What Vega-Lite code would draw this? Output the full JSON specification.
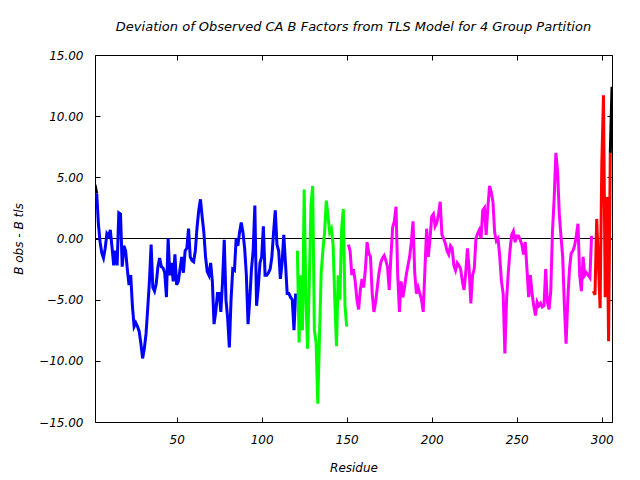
{
  "$schema": "https://vega.github.io/schema/vega-lite/v6.json",
  "width": 517,
  "height": 367,
  "autosize": "none",
  "padding": {"left": 95, "top": 55, "right": 28, "bottom": 58},
  "background": "white",
  "title": {"text": "Deviation of Observed CA B Factors from TLS Model for 4 Group Partition", "font": "DejaVu Sans", "fontSize": 13, "fontStyle": "italic", "fontWeight": "normal", "color": "black", "anchor": "middle", "offset": 15},
  "config": {
    "view": {"stroke": "black", "strokeWidth": 1},
    "axis": {"labelFont": "DejaVu Sans", "labelFontSize": 12, "labelFontStyle": "italic", "labelColor": "black", "titleFont": "DejaVu Sans", "titleFontSize": 12, "titleFontStyle": "italic", "titleFontWeight": "normal", "titleColor": "black", "tickColor": "black", "tickWidth": 1, "domain": false, "grid": false, "tickSize": -5}
  },
  "data": {"values": [
    {"r":2,"v":4.4,"s":"a"},{"r":3,"v":3.7,"s":"a"},
    {"r":3,"v":3.7,"s":"b"},{"r":4,"v":1.2,"s":"b"},{"r":5,"v":-0.3,"s":"b"},{"r":6,"v":-1.2,"s":"b"},{"r":7,"v":-1.6,"s":"b"},{"r":8,"v":-0.8,"s":"b"},{"r":9,"v":0.4,"s":"b"},{"r":10,"v":0.2,"s":"b"},
    {"r":11,"v":0.7,"s":"b"},{"r":12,"v":-0.7,"s":"b"},{"r":13,"v":-2.2,"s":"b"},{"r":14,"v":-1.0,"s":"b"},{"r":15,"v":-2.2,"s":"b"},{"r":16,"v":2.1,"s":"b"},{"r":17,"v":2.0,"s":"b"},{"r":18,"v":-2.3,"s":"b"},{"r":19,"v":-0.6,"s":"b"},{"r":20,"v":-1.0,"s":"b"},
    {"r":21,"v":-2.5,"s":"b"},{"r":22,"v":-3.8,"s":"b"},{"r":23,"v":-3.0,"s":"b"},{"r":24,"v":-5.5,"s":"b"},{"r":25,"v":-7.2,"s":"b"},{"r":26,"v":-6.9,"s":"b"},{"r":27,"v":-7.2,"s":"b"},{"r":28,"v":-7.6,"s":"b"},{"r":29,"v":-8.6,"s":"b"},{"r":30,"v":-9.8,"s":"b"},
    {"r":31,"v":-9.0,"s":"b"},{"r":32,"v":-7.8,"s":"b"},{"r":33,"v":-5.7,"s":"b"},{"r":34,"v":-3.5,"s":"b"},{"r":35,"v":-0.5,"s":"b"},{"r":36,"v":-4.0,"s":"b"},{"r":37,"v":-4.3,"s":"b"},{"r":38,"v":-3.7,"s":"b"},{"r":39,"v":-2.3,"s":"b"},{"r":40,"v":-1.6,"s":"b"},
    {"r":41,"v":-2.3,"s":"b"},{"r":42,"v":-2.4,"s":"b"},{"r":43,"v":-2.8,"s":"b"},{"r":44,"v":-4.8,"s":"b"},{"r":45,"v":0.0,"s":"b"},{"r":46,"v":-3.0,"s":"b"},{"r":47,"v":-2.0,"s":"b"},{"r":48,"v":-3.5,"s":"b"},{"r":49,"v":-1.3,"s":"b"},{"r":50,"v":-3.8,"s":"b"},
    {"r":51,"v":-3.5,"s":"b"},{"r":52,"v":-2.5,"s":"b"},{"r":53,"v":-1.5,"s":"b"},{"r":54,"v":-2.8,"s":"b"},{"r":55,"v":-1.0,"s":"b"},{"r":56,"v":-0.8,"s":"b"},{"r":57,"v":0.8,"s":"b"},{"r":58,"v":-1.5,"s":"b"},{"r":59,"v":-1.8,"s":"b"},{"r":60,"v":-1.9,"s":"b"},
    {"r":61,"v":-1.0,"s":"b"},{"r":62,"v":0.9,"s":"b"},{"r":63,"v":2.3,"s":"b"},{"r":64,"v":3.2,"s":"b"},{"r":65,"v":1.8,"s":"b"},{"r":66,"v":0.5,"s":"b"},{"r":67,"v":-1.5,"s":"b"},{"r":68,"v":-2.7,"s":"b"},{"r":69,"v":-3.0,"s":"b"},{"r":70,"v":-2.0,"s":"b"},
    {"r":71,"v":-3.5,"s":"b"},{"r":72,"v":-7.0,"s":"b"},{"r":73,"v":-6.0,"s":"b"},{"r":74,"v":-4.5,"s":"b"},{"r":75,"v":-4.5,"s":"b"},{"r":76,"v":-6.0,"s":"b"},{"r":77,"v":-3.5,"s":"b"},{"r":78,"v":-0.1,"s":"b"},{"r":79,"v":-5.0,"s":"b"},{"r":80,"v":-6.5,"s":"b"},
    {"r":81,"v":-8.9,"s":"b"},{"r":82,"v":-5.0,"s":"b"},{"r":83,"v":-2.5,"s":"b"},{"r":84,"v":-2.6,"s":"b"},{"r":85,"v":0.0,"s":"b"},{"r":86,"v":-0.6,"s":"b"},{"r":87,"v":0.5,"s":"b"},{"r":88,"v":1.3,"s":"b"},{"r":89,"v":0.5,"s":"b"},{"r":90,"v":-0.8,"s":"b"},
    {"r":91,"v":-3.0,"s":"b"},{"r":92,"v":-7.0,"s":"b"},{"r":93,"v":-5.0,"s":"b"},{"r":94,"v":-2.5,"s":"b"},{"r":95,"v":-1.0,"s":"b"},{"r":96,"v":2.7,"s":"b"},{"r":97,"v":-5.5,"s":"b"},{"r":98,"v":-4.0,"s":"b"},{"r":99,"v":-2.0,"s":"b"},{"r":100,"v":-1.5,"s":"b"},
    {"r":101,"v":1.0,"s":"b"},{"r":102,"v":-3.0,"s":"b"},{"r":103,"v":-3.0,"s":"b"},{"r":104,"v":-2.8,"s":"b"},{"r":105,"v":-2.5,"s":"b"},{"r":106,"v":-1.5,"s":"b"},{"r":107,"v":0.5,"s":"b"},{"r":108,"v":2.3,"s":"b"},{"r":109,"v":-0.5,"s":"b"},{"r":110,"v":-1.0,"s":"b"},
    {"r":111,"v":-3.3,"s":"b"},{"r":112,"v":-2.0,"s":"b"},{"r":113,"v":0.3,"s":"b"},{"r":114,"v":-2.0,"s":"b"},{"r":115,"v":-4.5,"s":"b"},{"r":116,"v":-4.5,"s":"b"},{"r":117,"v":-4.8,"s":"b"},{"r":118,"v":-5.0,"s":"b"},{"r":119,"v":-7.5,"s":"b"},{"r":120,"v":-4.5,"s":"b"},
    {"r":121,"v":-1.0,"s":"c"},{"r":122,"v":-8.5,"s":"c"},{"r":123,"v":-3.0,"s":"c"},{"r":124,"v":-7.5,"s":"c"},{"r":125,"v":4.0,"s":"c"},{"r":126,"v":-5.0,"s":"c"},{"r":127,"v":-9.0,"s":"c"},{"r":128,"v":-3.5,"s":"c"},{"r":129,"v":2.8,"s":"c"},{"r":130,"v":4.3,"s":"c"},
    {"r":131,"v":-7.5,"s":"c"},{"r":132,"v":-8.5,"s":"c"},{"r":133,"v":-13.5,"s":"c"},{"r":134,"v":-8.0,"s":"c"},{"r":135,"v":-2.8,"s":"c"},{"r":136,"v":-1.0,"s":"c"},{"r":137,"v":0.5,"s":"c"},{"r":138,"v":3.1,"s":"c"},{"r":139,"v":1.8,"s":"c"},{"r":140,"v":0.5,"s":"c"},
    {"r":141,"v":0.8,"s":"c"},{"r":142,"v":-0.5,"s":"c"},{"r":143,"v":-5.0,"s":"c"},{"r":144,"v":-8.8,"s":"c"},{"r":145,"v":-3.0,"s":"c"},{"r":146,"v":-5.0,"s":"c"},{"r":147,"v":0.8,"s":"c"},{"r":148,"v":2.4,"s":"c"},{"r":149,"v":-5.5,"s":"c"},{"r":150,"v":-7.2,"s":"c"},
    {"r":151,"v":-0.5,"s":"d"},{"r":152,"v":-1.0,"s":"d"},{"r":153,"v":-3.0,"s":"d"},{"r":154,"v":-2.5,"s":"d"},{"r":155,"v":-3.5,"s":"d"},{"r":156,"v":-5.0,"s":"d"},{"r":157,"v":-5.8,"s":"d"},{"r":158,"v":-4.2,"s":"d"},{"r":159,"v":-3.3,"s":"d"},{"r":160,"v":-4.0,"s":"d"},
    {"r":161,"v":-2.5,"s":"d"},{"r":162,"v":-0.3,"s":"d"},{"r":163,"v":-1.2,"s":"d"},{"r":164,"v":-1.5,"s":"d"},{"r":165,"v":-4.5,"s":"d"},{"r":166,"v":-6.0,"s":"d"},{"r":167,"v":-5.2,"s":"d"},{"r":168,"v":-4.0,"s":"d"},{"r":169,"v":-2.8,"s":"d"},{"r":170,"v":-2.0,"s":"d"},
    {"r":171,"v":-1.6,"s":"d"},{"r":172,"v":-1.4,"s":"d"},{"r":173,"v":-1.8,"s":"d"},{"r":174,"v":-2.3,"s":"d"},{"r":175,"v":-4.2,"s":"d"},{"r":176,"v":-1.5,"s":"d"},{"r":177,"v":0.9,"s":"d"},{"r":178,"v":1.4,"s":"d"},{"r":179,"v":2.6,"s":"d"},{"r":180,"v":-3.0,"s":"d"},
    {"r":181,"v":-6.0,"s":"d"},{"r":182,"v":-3.5,"s":"d"},{"r":183,"v":-4.8,"s":"d"},{"r":184,"v":-4.0,"s":"d"},{"r":185,"v":-3.0,"s":"d"},{"r":186,"v":-2.2,"s":"d"},{"r":187,"v":-1.5,"s":"d"},{"r":188,"v":-0.3,"s":"d"},{"r":189,"v":1.4,"s":"d"},{"r":190,"v":-2.8,"s":"d"},
    {"r":191,"v":-4.5,"s":"d"},{"r":192,"v":-4.0,"s":"d"},{"r":193,"v":-4.5,"s":"d"},{"r":194,"v":-5.0,"s":"d"},{"r":195,"v":-6.0,"s":"d"},{"r":196,"v":-2.5,"s":"d"},{"r":197,"v":0.8,"s":"d"},{"r":198,"v":-1.5,"s":"d"},{"r":199,"v":0.0,"s":"d"},{"r":200,"v":1.8,"s":"d"},
    {"r":201,"v":2.0,"s":"d"},{"r":202,"v":1.0,"s":"d"},{"r":203,"v":1.3,"s":"d"},{"r":204,"v":2.0,"s":"d"},{"r":205,"v":3.0,"s":"d"},{"r":206,"v":0.3,"s":"d"},{"r":207,"v":0.0,"s":"d"},{"r":208,"v":-0.4,"s":"d"},{"r":209,"v":-1.0,"s":"d"},{"r":210,"v":-1.3,"s":"d"},
    {"r":211,"v":-0.6,"s":"d"},{"r":212,"v":-0.8,"s":"d"},{"r":213,"v":-2.2,"s":"d"},{"r":214,"v":-2.6,"s":"d"},{"r":215,"v":-2.0,"s":"d"},{"r":216,"v":-2.2,"s":"d"},{"r":217,"v":-2.5,"s":"d"},{"r":218,"v":-3.5,"s":"d"},{"r":219,"v":-4.2,"s":"d"},{"r":220,"v":-2.8,"s":"d"},
    {"r":221,"v":-0.8,"s":"d"},{"r":222,"v":-2.5,"s":"d"},{"r":223,"v":-5.3,"s":"d"},{"r":224,"v":-3.0,"s":"d"},{"r":225,"v":-2.5,"s":"d"},{"r":226,"v":0.0,"s":"d"},{"r":227,"v":0.4,"s":"d"},{"r":228,"v":0.7,"s":"d"},{"r":229,"v":0.0,"s":"d"},{"r":230,"v":2.3,"s":"d"},
    {"r":231,"v":2.5,"s":"d"},{"r":232,"v":0.3,"s":"d"},{"r":233,"v":2.5,"s":"d"},{"r":234,"v":4.3,"s":"d"},{"r":235,"v":3.8,"s":"d"},{"r":236,"v":3.0,"s":"d"},{"r":237,"v":0.5,"s":"d"},{"r":238,"v":-0.2,"s":"d"},{"r":239,"v":0.0,"s":"d"},{"r":240,"v":-1.5,"s":"d"},
    {"r":241,"v":-3.5,"s":"d"},{"r":242,"v":-4.5,"s":"d"},{"r":243,"v":-9.4,"s":"d"},{"r":244,"v":-5.0,"s":"d"},{"r":245,"v":-2.8,"s":"d"},{"r":246,"v":-1.0,"s":"d"},{"r":247,"v":0.3,"s":"d"},{"r":248,"v":0.6,"s":"d"},{"r":249,"v":-0.3,"s":"d"},{"r":250,"v":0.2,"s":"d"},
    {"r":251,"v":0.2,"s":"d"},{"r":252,"v":-0.1,"s":"d"},{"r":253,"v":-0.5,"s":"d"},{"r":254,"v":-1.3,"s":"d"},{"r":255,"v":-0.3,"s":"d"},{"r":256,"v":-2.5,"s":"d"},{"r":257,"v":-4.8,"s":"d"},{"r":258,"v":-3.0,"s":"d"},{"r":259,"v":-4.5,"s":"d"},{"r":260,"v":-5.5,"s":"d"},
    {"r":261,"v":-6.3,"s":"d"},{"r":262,"v":-5.2,"s":"d"},{"r":263,"v":-5.5,"s":"d"},{"r":264,"v":-5.3,"s":"d"},{"r":265,"v":-5.6,"s":"d"},{"r":266,"v":-5.5,"s":"d"},{"r":267,"v":-2.5,"s":"d"},{"r":268,"v":-5.2,"s":"d"},{"r":269,"v":-5.8,"s":"d"},{"r":270,"v":-4.3,"s":"d"},
    {"r":271,"v":0.6,"s":"d"},{"r":272,"v":3.3,"s":"d"},{"r":273,"v":7.0,"s":"d"},{"r":274,"v":5.5,"s":"d"},{"r":275,"v":2.0,"s":"d"},{"r":276,"v":0.2,"s":"d"},{"r":277,"v":-1.5,"s":"d"},{"r":278,"v":-5.5,"s":"d"},{"r":279,"v":-8.6,"s":"d"},{"r":280,"v":-5.0,"s":"d"},
    {"r":281,"v":-2.5,"s":"d"},{"r":282,"v":-1.2,"s":"d"},{"r":283,"v":-1.0,"s":"d"},{"r":284,"v":-0.6,"s":"d"},{"r":285,"v":0.2,"s":"d"},{"r":286,"v":1.2,"s":"d"},{"r":287,"v":-3.0,"s":"d"},{"r":288,"v":-4.3,"s":"d"},{"r":289,"v":-1.5,"s":"d"},{"r":290,"v":-3.0,"s":"d"},
    {"r":291,"v":-2.8,"s":"d"},{"r":292,"v":-3.0,"s":"d"},{"r":293,"v":-3.2,"s":"d"},{"r":294,"v":0.2,"s":"d"},
    {"r":295,"v":-4.3,"s":"e"},{"r":296,"v":-4.6,"s":"e"},{"r":297,"v":1.6,"s":"e"},{"r":298,"v":-2.0,"s":"e"},{"r":299,"v":-5.7,"s":"e"},{"r":300,"v":6.1,"s":"e"},{"r":301,"v":11.7,"s":"e"},{"r":302,"v":-4.8,"s":"e"},{"r":303,"v":3.4,"s":"e"},{"r":304,"v":-8.4,"s":"e"},{"r":305,"v":7.0,"s":"e"},
    {"r":305,"v":7.0,"s":"f"},{"r":306,"v":12.4,"s":"f"}
  ]},
  "resolve": {"axis": {"x": "independent", "y": "independent"}},
  "layer": [
    {
      "mark": {"type": "rule", "color": "black", "strokeWidth": 1},
      "encoding": {
        "y": {"datum": 0, "type": "quantitative", "scale": {"domain": [-15, 15], "nice": false, "zero": false},
              "axis": {"orient": "right", "values": [-15, -10, -5, 0, 5, 10, 15], "labels": false, "title": null}}
      }
    },
    {
      "mark": {"type": "line", "strokeWidth": 3, "clip": true, "interpolate": "linear"},
      "encoding": {
        "x": {"field": "r", "type": "quantitative", "scale": {"domain": [2, 306], "nice": false, "zero": false},
              "axis": {"orient": "bottom", "values": [50, 100, 150, 200, 250, 300], "labelPadding": 17, "title": "Residue", "titlePadding": 17}},
        "y": {"field": "v", "type": "quantitative", "scale": {"domain": [-15, 15], "nice": false, "zero": false},
              "axis": {"orient": "left", "values": [-15, -10, -5, 0, 5, 10, 15], "format": ".2f", "labelPadding": 17, "title": "B obs - B tls", "titlePadding": 13}},
        "color": {"field": "s", "type": "nominal", "legend": null,
                  "scale": {"domain": ["a", "b", "c", "d", "e", "f"], "range": ["#000000", "#0000ff", "#00ff00", "#ff00ff", "#ff0000", "#000000"]}},
        "detail": {"field": "s"}
      }
    },
    {
      "mark": {"type": "rule", "opacity": 0},
      "encoding": {
        "x": {"datum": 2, "type": "quantitative", "scale": {"domain": [2, 306], "nice": false, "zero": false},
              "axis": {"orient": "top", "values": [50, 100, 150, 200, 250, 300], "labels": false, "title": null}}
      }
    }
  ]
}
